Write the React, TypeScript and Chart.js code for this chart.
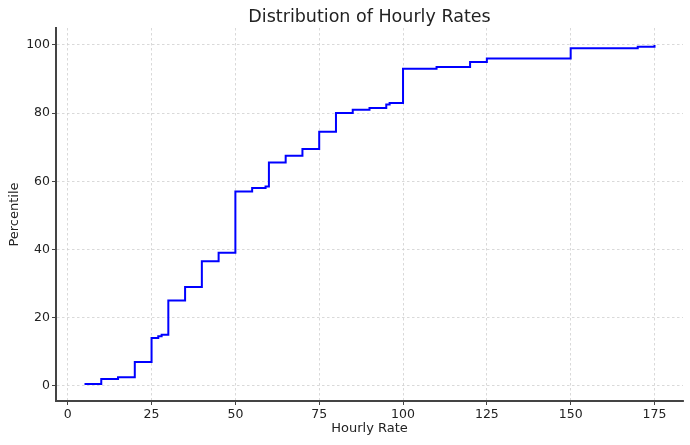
import React, { useEffect, useRef } from "react";
import { Chart, registerables } from "chart.js";

Chart.register(...registerables);

const rates = [5, 10, 15, 20, 25, 27, 28, 30, 35, 40, 45, 50, 55, 59, 60, 65, 70, 75, 80, 85, 90, 95, 96, 100, 110, 120, 125, 150, 170, 175];
const percentiles = [0.5, 2, 2.5, 7, 14, 14.5, 15, 25, 29, 36.5, 39, 57, 58, 58.5, 65.5, 67.5, 69.5, 74.5, 80, 81, 81.5, 82.5, 83, 93, 93.5, 95, 96, 99, 99.5, 100];
const xTicks = [0, 25, 50, 75, 100, 125, 150, 175];
const yTicks = [0, 20, 40, 60, 80, 100];

const FONT = "'DejaVu Sans', sans-serif";
const TEXT = "#222222";
const SPINE = "#444444";
const GRID = "#cfcfcf";

export default function App() {
  const ref = useRef<HTMLCanvasElement | null>(null);

  useEffect(() => {
    if (!ref.current) return;
    const chart = new Chart(ref.current, {
      type: "line",
      data: {
        datasets: [
          {
            label: "ECDF",
            data: rates.map((x, i) => ({ x, y: percentiles[i] })),
            borderColor: "#0000ff",
            borderWidth: 2,
            pointRadius: 0,
            fill: false,
            stepped: true,
            tension: 0,
          },
        ],
      },
      options: {
        animation: false,
        responsive: false,
        devicePixelRatio: 1,
        layout: { padding: { left: 0, right: 7, top: 0, bottom: 0 } },
        plugins: {
          legend: { display: false },
          tooltip: { enabled: false },
          title: {
            display: true,
            text: "Distribution of Hourly Rates",
            fullSize: false,
            color: TEXT,
            font: { family: FONT, size: 17.5, weight: "normal", lineHeight: 1.2 },
            padding: { top: 6.5, bottom: 0.5 },
          },
        },
        scales: {
          x: {
            type: "linear",
            min: -3.5,
            max: 183.5,
            afterBuildTicks: (scale: any) => {
              scale.ticks = xTicks.map((v) => ({ value: v }));
            },
            afterFit: (scale: any) => {
              scale.height = 44;
            },
            ticks: {
              color: TEXT,
              font: { family: FONT, size: 12.5 },
              padding: 2,
              maxRotation: 0,
              autoSkip: false,
            },
            grid: {
              color: GRID,
              lineWidth: 0.8,
              drawTicks: true,
              tickLength: 4,
              tickColor: SPINE,
              tickWidth: 1,
            },
            border: { display: true, color: SPINE, width: 2, dash: [2.5, 2.5] },
            title: {
              display: true,
              text: "Hourly Rate",
              color: TEXT,
              font: { family: FONT, size: 13, lineHeight: 1.2 },
              padding: { top: 9, bottom: 9 },
            },
          },
          y: {
            type: "linear",
            min: -4.475,
            max: 104.975,
            afterBuildTicks: (scale: any) => {
              scale.ticks = yTicks.map((v) => ({ value: v }));
            },
            afterFit: (scale: any) => {
              scale.width = 56;
            },
            ticks: {
              color: TEXT,
              font: { family: FONT, size: 12.5 },
              padding: 2,
              autoSkip: false,
            },
            grid: {
              color: GRID,
              lineWidth: 0.8,
              drawTicks: true,
              tickLength: 4,
              tickColor: SPINE,
              tickWidth: 1,
            },
            border: { display: true, color: SPINE, width: 2, dash: [2.5, 2.5] },
            title: {
              display: true,
              text: "Percentile",
              color: TEXT,
              font: { family: FONT, size: 13, lineHeight: 1.2 },
              padding: { top: 7, bottom: 7 },
            },
          },
        },
      },
    });
    return () => chart.destroy();
  }, []);

  return (
    <div style={{ position: "fixed", left: 0, top: 0, width: 690, height: 445, background: "#ffffff" }}>
      <canvas ref={ref} width={690} height={445} />
    </div>
  );
}
